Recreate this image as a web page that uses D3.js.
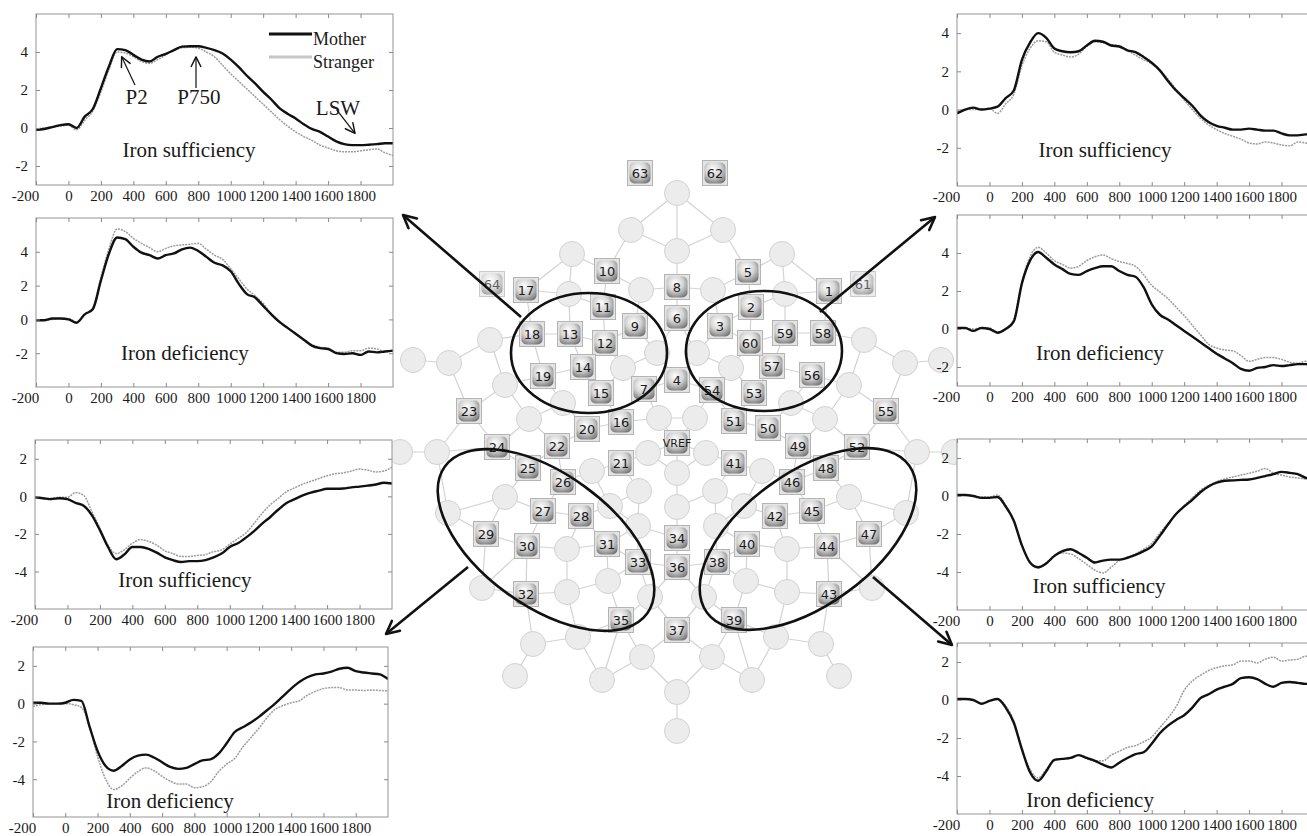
<!DOCTYPE html>
<html>
<head>
<meta charset="utf-8">
<script src="https://cdn.jsdelivr.net/npm/d3@7"></script>
<style>
  body { margin: 0; background: #fff; }
  svg text { font-family: "Liberation Serif", "Times New Roman", serif; fill: #1a1a1a; }
  .axis line { stroke: #8a8a8a; }
  .axis .domain { display: none; }
  .sensor-label { font-family: "DejaVu Sans", sans-serif; font-size: 12px; fill: #1a1a1a; }
</style>
</head>
<body>
<svg id="figure" width="1307" height="836"></svg>
<script>
// ---------------- data ----------------
const timesMs = [-200,-150,-100,-50,0,50,100,150,200,250,300,350,400,450,500,550,600,650,700,750,800,850,900,950,1000,
  1050,1100,1150,1200,1250,1300,1350,1400,1450,1500,1550,1600,1650,1700,1750,1800,1850,1900,1950,2000];
const xTickValues = [-200,0,200,400,600,800,1000,1200,1400,1600,1800];
const conditionLabels = ['Iron sufficiency', 'Iron deficiency'];
const seriesNames = ['Mother', 'Stranger'];

// left frontal cluster
const lfSuffMother = [-0.1,-0.05,0.05,0.15,0.2,0.0,0.6,1.0,2.1,3.25,4.15,4.1,3.85,3.6,3.5,3.75,3.9,4.1,4.28,4.3,4.3,4.22,4.1,3.92,3.6,
  3.2,2.75,2.35,1.9,1.5,1.05,0.75,0.5,0.2,-0.05,-0.2,-0.45,-0.7,-0.85,-0.9,-0.9,-0.88,-0.85,-0.8,-0.8];
const lfSuffStranger = [-0.05,0.0,0.05,0.1,0.15,-0.1,0.4,0.9,1.9,3.1,4.0,3.95,3.75,3.5,3.4,3.6,3.85,4.1,4.22,4.25,4.2,4.0,3.75,3.3,2.85,
  2.45,2.05,1.65,1.25,0.85,0.45,0.1,-0.2,-0.45,-0.65,-0.9,-1.05,-1.2,-1.25,-1.25,-1.2,-1.15,-1.1,-1.3,-1.45];
const lfDefMother = [-0.05,-0.05,0.05,0.05,0.0,-0.2,0.3,0.6,2.3,3.9,4.85,4.75,4.3,3.95,3.8,3.6,3.8,3.9,4.15,4.25,4.05,3.7,3.35,3.2,2.85,
  2.1,1.5,1.3,0.8,0.3,-0.15,-0.5,-0.85,-1.2,-1.55,-1.7,-1.75,-2.0,-2.05,-2.0,-2.1,-1.9,-1.95,-1.9,-1.85];
const lfDefStranger = [-0.05,-0.05,0.0,0.05,0.05,-0.15,0.3,0.7,2.5,4.2,5.35,5.2,4.8,4.5,4.25,4.0,4.2,4.35,4.4,4.45,4.5,4.15,3.8,3.55,3.0,
  2.4,1.8,1.4,0.95,0.35,-0.1,-0.5,-0.85,-1.2,-1.5,-1.65,-1.7,-1.95,-1.95,-1.85,-1.85,-1.7,-1.75,-1.9,-1.85];

// left posterior cluster
const lpSuffMother = [-0.05,-0.1,-0.15,-0.1,-0.15,-0.35,-0.5,-1.0,-1.8,-2.7,-3.35,-3.1,-2.7,-2.7,-2.8,-3.0,-3.25,-3.4,-3.5,-3.45,-3.45,-3.4,-3.25,-3.05,-2.7,
  -2.5,-2.2,-1.85,-1.45,-1.1,-0.7,-0.35,-0.15,0.05,0.2,0.3,0.4,0.4,0.42,0.48,0.52,0.57,0.63,0.72,0.68];
const lpSuffStranger = [-0.05,-0.1,-0.1,-0.05,-0.05,0.2,0.05,-0.8,-1.7,-2.6,-3.05,-2.85,-2.5,-2.3,-2.4,-2.6,-2.9,-3.05,-3.2,-3.2,-3.15,-3.1,-2.95,-2.85,-2.55,
  -2.25,-1.95,-1.45,-0.9,-0.45,-0.1,0.25,0.45,0.65,0.8,0.95,1.1,1.2,1.25,1.35,1.45,1.4,1.3,1.35,1.55];
const lpDefMother = [0.05,0.05,0.0,0.0,0.05,0.2,0.15,-1.2,-2.5,-3.3,-3.55,-3.3,-2.95,-2.75,-2.7,-2.85,-3.1,-3.35,-3.45,-3.4,-3.2,-3.0,-2.95,-2.65,-2.1,
  -1.5,-1.25,-1.0,-0.7,-0.35,0.0,0.4,0.8,1.15,1.4,1.55,1.6,1.7,1.85,1.9,1.72,1.65,1.6,1.55,1.3];
const lpDefStranger = [-0.15,-0.05,0.0,0.0,0.0,-0.05,-0.2,-1.2,-2.8,-4.0,-4.55,-4.35,-3.95,-3.6,-3.4,-3.55,-3.85,-4.1,-4.25,-4.25,-4.45,-4.4,-4.15,-3.6,-3.2,
  -2.9,-2.3,-1.8,-1.3,-0.75,-0.3,-0.1,0.05,0.15,0.45,0.65,0.8,0.85,0.85,0.72,0.72,0.7,0.72,0.7,0.68];

// right frontal cluster
const rfSuffMother = [-0.2,0.0,0.1,0.0,0.05,0.15,0.6,1.0,2.6,3.5,4.0,3.75,3.2,3.05,3.0,3.05,3.35,3.6,3.55,3.35,3.3,3.1,3.0,2.75,2.45,
  2.05,1.5,1.0,0.6,0.2,-0.3,-0.65,-0.85,-0.95,-1.05,-1.05,-1.0,-1.05,-1.1,-1.1,-1.25,-1.35,-1.35,-1.3,-1.3];
const rfSuffStranger = [-0.1,0.0,0.0,0.0,0.05,-0.2,0.3,0.8,2.3,3.2,3.6,3.55,3.0,2.85,2.75,2.9,3.3,3.55,3.5,3.4,3.35,3.1,2.85,2.6,2.4,
  2.05,1.6,1.05,0.5,0.0,-0.45,-0.8,-1.05,-1.25,-1.4,-1.55,-1.75,-1.8,-1.7,-1.75,-1.85,-1.9,-1.7,-1.75,-1.8];
const rfDefMother = [0.05,0.05,-0.1,0.05,0.0,-0.2,0.0,0.4,2.4,3.6,4.05,3.75,3.4,3.15,2.9,2.85,3.05,3.2,3.3,3.3,3.05,2.85,2.75,2.2,1.3,
  0.75,0.5,0.2,-0.1,-0.4,-0.7,-1.0,-1.3,-1.55,-1.8,-2.1,-2.2,-2.05,-2.0,-1.9,-1.95,-1.9,-1.85,-1.85,-1.9];
const rfDefStranger = [0.05,0.05,0.0,0.05,0.05,-0.15,0.0,0.5,2.5,3.8,4.3,4.0,3.6,3.4,3.2,3.3,3.6,3.8,3.9,3.7,3.55,3.45,3.3,2.85,2.3,
  1.95,1.6,1.15,0.7,0.2,-0.3,-0.8,-1.0,-1.1,-1.15,-1.4,-1.7,-1.6,-1.5,-1.5,-1.6,-1.75,-1.8,-1.7,-1.7];

// right posterior cluster
const rpSuffMother = [0.05,0.05,0.0,-0.1,-0.1,-0.05,-0.55,-1.3,-2.6,-3.5,-3.75,-3.55,-3.15,-2.9,-2.8,-3.0,-3.25,-3.5,-3.4,-3.35,-3.35,-3.25,-3.1,-2.9,-2.65,
  -2.1,-1.5,-0.95,-0.55,-0.2,0.2,0.5,0.7,0.8,0.82,0.85,0.87,0.95,1.05,1.15,1.27,1.22,1.15,0.95,0.85];
const rpSuffStranger = [0.05,0.05,0.0,-0.05,-0.05,0.05,-0.5,-1.3,-2.6,-3.5,-3.8,-3.5,-3.15,-3.0,-3.05,-3.3,-3.6,-3.9,-4.05,-3.75,-3.4,-3.25,-3.05,-2.8,-2.5,
  -1.95,-1.45,-0.95,-0.5,-0.1,0.3,0.55,0.75,0.9,1.0,1.1,1.2,1.3,1.45,1.2,1.1,1.0,0.95,0.9,0.95];
const rpDefMother = [0.05,0.05,0.0,-0.2,-0.05,0.05,-0.4,-1.2,-2.6,-3.8,-4.25,-3.75,-3.15,-3.1,-3.05,-2.9,-3.05,-3.2,-3.4,-3.55,-3.3,-3.05,-2.85,-2.75,-2.3,
  -1.75,-1.35,-1.05,-0.8,-0.4,0.1,0.3,0.55,0.7,0.85,1.15,1.2,1.1,0.85,0.7,0.9,0.95,0.9,0.85,0.85];
const rpDefStranger = [0.0,0.05,0.0,-0.2,-0.05,0.05,-0.3,-1.1,-2.5,-3.65,-4.1,-3.65,-3.2,-3.1,-3.05,-2.9,-3.1,-3.2,-3.2,-2.9,-2.7,-2.5,-2.4,-2.2,-1.95,
  -1.45,-0.95,-0.35,0.5,1.0,1.3,1.55,1.7,1.8,1.85,2.05,2.05,1.95,2.15,2.25,2.05,2.1,2.15,2.3,2.2];

// sensor net (montage units, origin at VREF)
const sensorSquares = [
  ['1',15.2,-15.2],['2',7.4,-13.6],['3',4.3,-11.7],['4',0,-6.3],['5',7.1,-17.1],['6',0,-12.5],['7',-3.3,-5.4],['8',0,-15.6],['9',-4.2,-11.7],['10',-7.0,-17.2],
  ['11',-7.4,-13.6],['12',-7.2,-10.0],['13',-10.7,-10.9],['14',-9.4,-7.6],['15',-7.6,-5.0],['16',-5.6,-2.1],['17',-15.1,-15.3],['18',-14.5,-10.9],['19',-13.4,-6.7],['20',-9.0,-1.4],
  ['21',-5.6,2.0],['22',-12.0,0.3],['23',-20.8,-3.2],['24',-18.0,0.4],['25',-14.9,2.5],['26',-11.4,3.9],['27',-13.4,6.8],['28',-9.6,7.3],['29',-19.1,9.1],['30',-15.0,10.3],
  ['31',-7.0,10.1],['32',-15.1,15.1],['33',-3.9,11.9],['34',0,9.5],['35',-5.6,17.7],['36',0,12.4],['37',0,18.7],['38',4.0,11.9],['39',5.7,17.7],['40',7.0,10.1],
  ['41',5.7,2.0],['42',9.8,7.3],['43',15.2,15.1],['44',15.0,10.3],['45',13.5,6.8],['46',11.5,3.9],['47',19.2,9.1],['48',14.9,2.5],['49',12.1,0.3],['50',9.1,-1.5],
  ['51',5.7,-2.2],['52',18.0,0.4],['53',7.7,-5.0],['54',3.5,-5.3],['55',20.9,-3.2],['56',13.5,-6.8],['57',9.5,-7.7],['58',14.6,-11.0],['59',10.8,-11.0],['60',7.3,-10.0],
  ['61',18.6,-15.9],['62',3.8,-27.0],['63',-3.7,-27.0],['64',-18.5,-15.9],['VREF',0,0]
];
const floatingSensors = ['61','62','63','64'];
const fadedSensors = ['61','64'];
const blankSensorsLeft = [
  [-4.6,-21.3],[-10.5,-18.9],[-3.6,-15.3],[-10.8,-14.9],[-18.7,-10.3],[-26.4,-8.3],[-22.8,-8.0],[-2.0,-9.0],[-5.4,-7.5],[-17.2,-5.8],
  [-11.4,-4.0],[-14.8,-2.4],[-1.8,-2.5],[-27.7,0.9],[-24.0,0.9],[-2.9,1.0],[-8.5,2.8],[-3.8,4.8],[-17.2,5.4],[-22.9,7.0],
  [-6.7,6.3],[-3.9,8.3],[-11.0,10.6],[-6.9,13.8],[-11.0,14.9],[-2.7,15.4],[-19.5,14.5],[-14.4,20.1],[-9.9,19.4],[-3.5,21.4],
  [-16.2,23.3],[-7.5,23.7]
];
const blankSensorsMid = [[0,-25.0],[0,-19.2],[0,3.0],[0,6.4],[0,24.9],[0,28.8]];

// ---------------- layout ----------------
const svg = d3.select('#figure');
const defs = svg.append('defs');

const grad = defs.append('radialGradient').attr('id', 'sensorGrad')
    .attr('cx', '45%').attr('cy', '35%').attr('r', '72%').attr('fx', '40%').attr('fy', '30%');
grad.append('stop').attr('offset', '0%').attr('stop-color', '#ffffff');
grad.append('stop').attr('offset', '50%').attr('stop-color', '#d6d6d6');
grad.append('stop').attr('offset', '100%').attr('stop-color', '#767676');

function addArrowMarker(id, size, strokeW) {
  defs.append('marker')
      .attr('id', id)
      .attr('viewBox', '0 0 10 10')
      .attr('refX', 9).attr('refY', 5)
      .attr('markerUnits', 'userSpaceOnUse')
      .attr('markerWidth', size).attr('markerHeight', size)
      .attr('orient', 'auto')
    .append('path')
      .attr('d', 'M1,1 L9,5 L1,9')
      .attr('fill', 'none')
      .attr('stroke', '#111')
      .attr('stroke-width', strokeW)
      .attr('stroke-linecap', 'round')
      .attr('stroke-linejoin', 'round');
}
addArrowMarker('bigArrow', 16, 1.6);
addArrowMarker('smallArrow', 12, 1.2);

// ---------------- sensor map ----------------
class SensorMap {
  constructor(_config) {
    this.config = {
      parentElement: _config.parentElement,
      xRange: _config.xRange,
      yRange: _config.yRange,
      radius: _config.radius || 12.5,
      squareSize: _config.squareSize || 25
    };
    this.initVis();
  }

  initVis() {
    let vis = this;
    vis.xScale = d3.scaleLinear().domain([-30, 30]).range(vis.config.xRange);
    vis.yScale = d3.scaleLinear().domain([-30, 30]).range(vis.config.yRange);
    vis.g = d3.select(vis.config.parentElement).append('g').attr('class', 'sensor-map');
    vis.edgeG = vis.g.append('g');
    vis.blankG = vis.g.append('g');
    vis.squareG = vis.g.append('g');
    vis.updateVis();
  }

  updateVis() {
    let vis = this;
    const blanks = blankSensorsLeft.concat(blankSensorsLeft.map(d => [-d[0], d[1]]), blankSensorsMid)
        .map(d => ({kind: 'blank', px: vis.xScale(d[0]), py: vis.yScale(d[1])}));
    const squares = sensorSquares.map(d => ({kind: 'sensor', label: d[0], px: vis.xScale(d[1]), py: vis.yScale(d[2])}));
    vis.blanks = blanks;
    vis.squares = squares;

    // net edges: join each sensor to its nearest neighbours
    const nodes = blanks.concat(squares.filter(d => !floatingSensors.includes(d.label)));
    const seen = new Set();
    vis.edges = [];
    nodes.forEach((a, i) => {
      nodes.map((b, j) => ({j, d: Math.hypot(a.px - b.px, a.py - b.py)}))
        .filter(o => o.j !== i && o.d < 72)
        .sort((p, q) => p.d - q.d)
        .slice(0, 3)
        .forEach(o => {
          const key = Math.min(i, o.j) + '-' + Math.max(i, o.j);
          if (!seen.has(key)) { seen.add(key); vis.edges.push([a, nodes[o.j]]); }
        });
    });
    vis.renderVis();
  }

  renderVis() {
    let vis = this;
    const s = vis.config.squareSize;

    vis.edgeG.selectAll('line')
        .data(vis.edges)
      .join('line')
        .attr('x1', d => d[0].px).attr('y1', d => d[0].py)
        .attr('x2', d => d[1].px).attr('y2', d => d[1].py)
        .attr('stroke', '#d3d3d3')
        .attr('stroke-width', 1.2);

    vis.blankG.selectAll('circle')
        .data(vis.blanks)
      .join('circle')
        .attr('cx', d => d.px).attr('cy', d => d.py)
        .attr('r', vis.config.radius)
        .attr('fill', '#ececec')
        .attr('stroke', '#d2d2d2')
        .attr('stroke-width', 1);

    const sq = vis.squareG.selectAll('g.sensor')
        .data(vis.squares)
      .join('g')
        .attr('class', 'sensor')
        .attr('transform', d => `translate(${d.px},${d.py})`)
        .attr('opacity', d => fadedSensors.includes(d.label) ? 0.7 : 1);
    sq.append('rect')
        .attr('x', -s / 2).attr('y', -s / 2).attr('width', s).attr('height', s)
        .attr('fill', '#e4e4e4').attr('stroke', '#b4b4b4');
    sq.append('rect')
        .attr('x', -s / 2 + 2).attr('y', -s / 2 + 2).attr('width', s - 4).attr('height', s - 4)
        .attr('rx', 5)
        .attr('fill', 'url(#sensorGrad)');
    sq.append('text')
        .attr('class', 'sensor-label')
        .attr('text-anchor', 'middle')
        .attr('dy', '0.37em')
        .style('font-size', d => d.label === 'VREF' ? '11px' : '13px')
        .text(d => d.label);
  }
}

// ---------------- ERP panel ----------------
class ErpPanel {
  constructor(_config, _data) {
    this.config = {
      parentElement: _config.parentElement,
      left: _config.left,
      top: _config.top,
      width: _config.width || 357,
      height: _config.height || 171,
      yDomain: _config.yDomain,
      yTicks: _config.yTicks,
      label: _config.label,
      labelAt: _config.labelAt,
      id: _config.id
    };
    this.data = _data;
    this.initVis();
  }

  initVis() {
    let vis = this;
    const w = vis.config.width, h = vis.config.height;

    vis.xScale = d3.scaleLinear().domain([-200, 2000]).range([0, w]);
    vis.yScale = d3.scaleLinear().domain(vis.config.yDomain).range([h, 0]);

    vis.xAxis = d3.axisBottom(vis.xScale).tickValues(xTickValues)
        .tickFormat(d => String(d))
        .tickSizeInner(-4).tickSizeOuter(0).tickPadding(5);
    vis.xAxisTop = d3.axisTop(vis.xScale).tickValues(xTickValues)
        .tickSizeInner(-4).tickSizeOuter(0).tickFormat('');
    vis.yAxis = d3.axisLeft(vis.yScale).tickValues(vis.config.yTicks)
        .tickFormat(d => String(d))
        .tickSizeInner(-4).tickSizeOuter(0).tickPadding(8);
    vis.yAxisRight = d3.axisRight(vis.yScale).tickValues(vis.config.yTicks)
        .tickSizeInner(-4).tickSizeOuter(0).tickFormat('');

    vis.chart = d3.select(vis.config.parentElement).append('g')
        .attr('transform', `translate(${vis.config.left},${vis.config.top})`);

    vis.chart.append('rect')
        .attr('width', w).attr('height', h)
        .attr('fill', '#fff');

    defs.append('clipPath').attr('id', 'clip-' + vis.config.id)
      .append('rect').attr('width', w).attr('height', h);

    vis.lineG = vis.chart.append('g').attr('clip-path', `url(#clip-${vis.config.id})`);

    vis.chart.append('rect')
        .attr('width', w).attr('height', h)
        .attr('fill', 'none')
        .attr('stroke', '#949494')
        .attr('stroke-width', 1);

    vis.xAxisG = vis.chart.append('g').attr('class', 'axis').attr('transform', `translate(0,${h})`);
    vis.xAxisTopG = vis.chart.append('g').attr('class', 'axis');
    vis.yAxisG = vis.chart.append('g').attr('class', 'axis');
    vis.yAxisRightG = vis.chart.append('g').attr('class', 'axis').attr('transform', `translate(${w},0)`);

    vis.line = d3.line()
        .x(d => vis.xScale(d.t))
        .y(d => vis.yScale(d.v))
        .curve(d3.curveMonotoneX);

    vis.updateVis();
  }

  updateVis() {
    let vis = this;
    vis.series = [
      {name: seriesNames[1], values: vis.data.stranger},
      {name: seriesNames[0], values: vis.data.mother}
    ].map(s => ({name: s.name, points: timesMs.map((t, i) => ({t, v: s.values[i]}))}));
    vis.renderVis();
  }

  renderVis() {
    let vis = this;

    vis.lineG.selectAll('.erp')
        .data(vis.series, d => d.name)
      .join('path')
        .attr('class', 'erp')
        .attr('fill', 'none')
        .attr('d', d => vis.line(d.points))
        .attr('stroke', d => d.name === 'Mother' ? '#111' : '#9c9c9c')
        .attr('stroke-width', d => d.name === 'Mother' ? 2.4 : 1.5)
        .attr('stroke-dasharray', d => d.name === 'Mother' ? null : '2,1');

    vis.chart.append('text')
        .attr('x', vis.xScale(vis.config.labelAt[0]))
        .attr('y', vis.yScale(vis.config.labelAt[1]))
        .attr('text-anchor', 'middle')
        .style('font-size', '21px')
        .text(vis.config.label);

    const serif = g => g.attr('font-family', '"Liberation Serif", "Times New Roman", serif').attr('font-size', 15);
    vis.xAxisG.call(vis.xAxis).call(serif)
        .call(g => g.selectAll('.tick text').filter(d => d === -200).attr('dx', -11));
    vis.xAxisTopG.call(vis.xAxisTop);
    vis.yAxisG.call(vis.yAxis).call(serif);
    vis.yAxisRightG.call(vis.yAxisRight);
  }

  annotate(text, textAt, from, to) {
    let vis = this;
    vis.chart.append('text')
        .attr('x', vis.xScale(textAt[0])).attr('y', vis.yScale(textAt[1]))
        .attr('text-anchor', 'middle')
        .style('font-size', '21px')
        .text(text);
    vis.chart.append('line')
        .attr('x1', vis.xScale(from[0])).attr('y1', vis.yScale(from[1]))
        .attr('x2', vis.xScale(to[0])).attr('y2', vis.yScale(to[1]))
        .attr('stroke', '#111').attr('stroke-width', 1.2)
        .attr('marker-end', 'url(#smallArrow)');
  }

  addLegend() {
    let vis = this;
    const items = [
      {name: seriesNames[0], color: '#111', y: 20},
      {name: seriesNames[1], color: '#c6c6c6', y: 43}
    ];
    const lg = vis.chart.append('g').attr('transform', 'translate(233,0)');
    lg.selectAll('line').data(items).join('line')
        .attr('x1', 0).attr('x2', 43)
        .attr('y1', d => d.y).attr('y2', d => d.y)
        .attr('stroke', d => d.color).attr('stroke-width', 3);
    lg.selectAll('text').data(items).join('text')
        .attr('x', 44).attr('y', d => d.y + 11)
        .style('font-size', '18px')
        .text(d => d.name);
  }
}

// draw the net first so the panels sit on top of it
new SensorMap({parentElement: '#figure', xRange: [377, 977], yRange: [143, 743]});

const panelSpecs = [
  {id: 'lf-s', left: 36,  top: 14,  height: 171, yDomain: [-3, 6], yTicks: [-2, 0, 2, 4],  label: conditionLabels[0], labelAt: [743, -1.53], mother: lfSuffMother, stranger: lfSuffStranger},
  {id: 'lf-d', left: 36,  top: 218, height: 169, yDomain: [-4, 6], yTicks: [-2, 0, 2, 4],  label: conditionLabels[1], labelAt: [718, -2.4],  mother: lfDefMother,  stranger: lfDefStranger},
  {id: 'lp-s', left: 35,  top: 440, height: 169, yDomain: [-6, 3], yTicks: [-4, -2, 0, 2], label: conditionLabels[0], labelAt: [724, -4.83], mother: lpSuffMother, stranger: lpSuffStranger},
  {id: 'lp-d', left: 33,  top: 647, height: 170, width: 355, yDomain: [-6, 3], yTicks: [-4, -2, 0, 2], label: conditionLabels[1], labelAt: [649, -5.52], mother: lpDefMother, stranger: lpDefStranger},
  {id: 'rf-s', left: 957, top: 14,  height: 172, yDomain: [-4, 5], yTicks: [-2, 0, 2, 4],  label: conditionLabels[0], labelAt: [712, -2.49], mother: rfSuffMother, stranger: rfSuffStranger},
  {id: 'rf-d', left: 957, top: 215, height: 171, yDomain: [-3, 6], yTicks: [-2, 0, 2, 4],  label: conditionLabels[1], labelAt: [681, -1.63], mother: rfDefMother,  stranger: rfDefStranger},
  {id: 'rp-s', left: 957, top: 439, height: 171, yDomain: [-6, 3], yTicks: [-4, -2, 0, 2], label: conditionLabels[0], labelAt: [675, -5.1],  mother: rpSuffMother, stranger: rpSuffStranger},
  {id: 'rp-d', left: 957, top: 643, height: 171, yDomain: [-6, 3], yTicks: [-4, -2, 0, 2], label: conditionLabels[1], labelAt: [620, -5.63], mother: rpDefMother,  stranger: rpDefStranger}
];

const panels = panelSpecs.map(p => new ErpPanel(Object.assign({parentElement: '#figure'}, p),
    {mother: p.mother, stranger: p.stranger}));

// component labels on the first panel
panels[0].annotate('P2',   [420, 1.26],  [410, 2.26],  [328, 3.75]);
panels[0].annotate('P750', [804, 1.26],  [786, 2.1],   [786, 3.74]);
panels[0].annotate('LSW',  [1661, 0.68], [1653, 0.95], [1766, -0.28]);
panels[0].addLegend();

// regions of interest and arrows to their panels
const overlay = svg.append('g');
const roiEllipses = [
  {cx: 589, cy: 353, rx: 78,  ry: 60, angle: 0},
  {cx: 764, cy: 351, rx: 78,  ry: 60, angle: 0},
  {cx: 546, cy: 540, rx: 125, ry: 66, angle: 36},
  {cx: 808, cy: 539, rx: 125, ry: 66, angle: -36}
];
overlay.selectAll('ellipse').data(roiEllipses).join('ellipse')
    .attr('transform', d => `translate(${d.cx},${d.cy}) rotate(${d.angle})`)
    .attr('rx', d => d.rx).attr('ry', d => d.ry)
    .attr('fill', 'none').attr('stroke', '#111').attr('stroke-width', 2.6);

const roiArrows = [
  {from: [521, 317], to: [403, 215]},
  {from: [820, 312], to: [935, 217]},
  {from: [468, 567], to: [386, 634]},
  {from: [873, 577], to: [952, 645]}
];
overlay.selectAll('line').data(roiArrows).join('line')
    .attr('x1', d => d.from[0]).attr('y1', d => d.from[1])
    .attr('x2', d => d.to[0]).attr('y2', d => d.to[1])
    .attr('stroke', '#111').attr('stroke-width', 2.6)
    .attr('marker-end', 'url(#bigArrow)');
</script>
</body>
</html>
